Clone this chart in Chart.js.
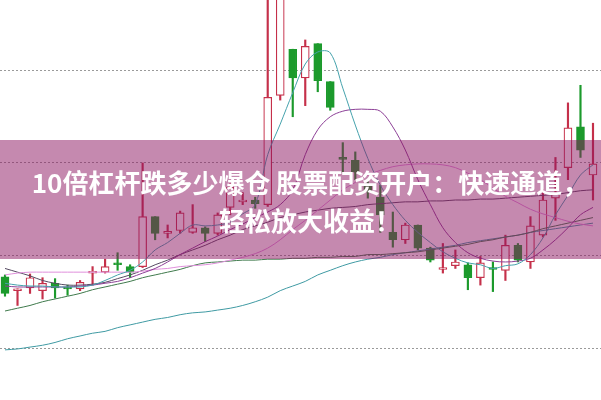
<!DOCTYPE html>
<html>
<head>
<meta charset="utf-8">
<script src="https://cdn.jsdelivr.net/npm/chart.js@4.4.1/dist/chart.umd.min.js"></script>
<style>
  html, body { margin: 0; padding: 0; background: #fff; }
  #wrap { position: relative; width: 601px; height: 400px; overflow: hidden; }
  #banner { position: absolute; left: 0; top: 140px; width: 601px; height: 119px; background: rgba(140, 20, 95, 0.5); }
  #title { position: absolute; left: 19px; width: 582px; top: 163px; text-align: center; color: #fff;
           font: bold 26px/38px "Noto Sans CJK SC", sans-serif; white-space: nowrap; }
</style>
</head>
<body>
<div id="wrap">
  <canvas id="kline"></canvas>
  <div id="banner"></div>
  <div id="title"></div>
</div>
<script>
// ── data (price units, one entry per candle) ──
const titleLines = ['10倍杠杆跌多少爆仓 股票配资开户：快速通道，', '轻松放大收益！'];
const gridTicks = [10, 11, 12, 13];

const opens  = [10.77,10.62,10.65,10.62,10.70,10.66,10.64,10.81,10.82,10.92,10.88,10.88,11.42,11.24,11.27,11.25,
                11.30,11.24,11.52,11.58,11.60,11.55,12.73,13.23,12.92,13.29,12.88,12.06,12.03,11.75,11.63,11.25,
                11.17,11.33,11.08,10.85,10.89,10.90,10.76,10.87,10.84,11.11,10.93,11.22,11.62,11.95,12.39,11.87];
const highs  = [10.79,10.64,10.80,10.76,10.75,10.68,10.73,10.88,10.96,11.03,10.90,12.00,11.42,11.33,11.48,11.55,
                11.31,11.46,11.78,11.68,11.63,13.85,14.20,13.23,13.33,13.29,12.88,12.22,12.12,11.80,11.76,11.47,
                11.35,11.33,11.09,11.13,11.06,10.92,10.99,10.93,11.22,11.13,11.42,11.71,12.06,12.65,12.84,12.43];
const lows   = [10.56,10.46,10.59,10.53,10.54,10.57,10.62,10.68,10.81,10.84,10.76,10.87,11.17,11.19,11.24,11.24,
                11.15,11.22,11.44,11.55,11.51,11.53,12.68,12.50,12.62,12.77,12.57,11.90,11.82,11.62,11.25,11.09,
                11.13,11.06,10.93,10.81,10.86,10.63,10.68,10.61,10.73,10.93,10.86,11.20,11.38,11.82,12.06,11.60];
const closes = [10.59,10.64,10.76,10.70,10.65,10.64,10.71,10.83,10.88,10.90,10.82,11.42,11.24,11.26,11.46,11.30,
                11.24,11.44,11.74,11.60,11.56,12.71,14.05,12.92,13.26,12.89,12.60,12.04,11.90,11.69,11.44,11.17,
                11.33,11.08,10.95,10.87,10.93,10.76,10.92,10.85,11.11,10.95,11.32,11.60,11.67,12.38,12.14,11.99];

const ma5   = [10.70,10.68,10.67,10.67,10.66,10.66,10.66,10.68,10.73,10.79,10.84,10.93,11.06,11.14,11.24,11.33,
               11.32,11.33,11.36,11.45,11.55,12.09,12.42,12.76,13.07,13.20,13.19,12.81,12.41,12.05,11.76,11.55,
               11.38,11.25,11.14,11.04,10.97,10.92,10.90,10.86,10.89,10.91,11.01,11.19,11.44,11.65,11.87,11.98];
const ma10  = [10.67,10.66,10.66,10.66,10.66,10.66,10.67,10.68,10.70,10.72,10.76,10.81,10.86,10.93,11.01,11.08,
               11.15,11.21,11.28,11.34,11.41,11.47,11.55,11.71,12.09,12.36,12.50,12.56,12.58,12.58,12.56,12.39,
               12.14,11.82,11.55,11.30,11.14,11.03,10.97,10.94,10.93,10.94,10.97,11.06,11.17,11.30,11.44,11.52];
const ma20  = [10.79,10.81,10.82,10.82,10.82,10.82,10.82,10.82,10.82,10.82,10.82,10.83,10.85,10.86,10.88,10.89,
               10.90,10.92,10.95,10.98,11.02,11.08,11.17,11.28,11.38,11.49,11.60,11.71,11.79,11.87,11.92,11.96,
               11.98,11.99,11.99,11.98,11.95,11.89,11.82,11.73,11.64,11.57,11.50,11.45,11.41,11.37,11.34,11.32];
const ma30  = [10.86,10.82,10.78,10.73,10.70,10.68,10.68,10.69,10.71,10.75,10.79,10.84,10.90,10.95,11.01,11.06,
               11.11,11.17,11.22,11.28,11.32,11.36,11.41,11.44,11.47,11.49,11.51,11.52,11.53,11.55,11.56,11.57,
               11.58,11.58,11.59,11.59,11.60,11.60,11.61,11.61,11.62,11.63,11.64,11.65,11.66,11.68,11.70,11.71];
const ma60  = [10.40,10.43,10.46,10.50,10.53,10.56,10.59,10.63,10.66,10.69,10.72,10.76,10.79,10.82,10.85,10.89,
               10.92,10.93,10.94,10.95,10.95,10.96,10.96,10.97,10.97,10.98,10.98,10.99,10.99,11.01,11.01,11.02,
               11.03,11.04,11.06,11.08,11.10,11.12,11.15,11.17,11.20,11.22,11.25,11.29,11.32,11.35,11.38,11.41];
const ma120 = [ 9.98, 9.99,10.01,10.03,10.06,10.10,10.13,10.16,10.18,10.22,10.25,10.28,10.31,10.33,10.36,10.38,
               10.39,10.41,10.43,10.46,10.50,10.55,10.62,10.67,10.72,10.79,10.84,10.89,10.93,10.96,10.98,11.01,
               11.03,11.05,11.07,11.09,11.11,11.14,11.16,11.18,11.20,11.22,11.25,11.27,11.29,11.31,11.33,11.35];

const RED = '#c5304a';
const GREEN = '#1c9a2c';

document.getElementById('title').innerHTML = titleLines.map(t => '<div>' + t + '</div>').join('');

const idx = opens.map((_, i) => i);
const up = idx.map(i => closes[i] >= opens[i]);
const candleColor = idx.map(i => up[i] ? RED : GREEN);
const pts = arr => arr.map((v, i) => ({ x: i, y: v }));

const maLine = (label, arr, color) => ({
  type: 'line', label, data: pts(arr), borderColor: color, borderWidth: 1,
  pointRadius: 0, tension: 0.35, fill: false, order: -1
});

new Chart(document.getElementById('kline'), {
  type: 'bar',
  data: {
    datasets: [
      maLine('MA5', ma5, '#45a2ac'),
      maLine('MA10', ma10, '#8c3f96'),
      maLine('MA20', ma20, '#e08fdc'),
      maLine('MA30', ma30, '#564a62'),
      maLine('MA60', ma60, '#3f7a4c'),
      maLine('MA120', ma120, '#3f9aa3'),
      {
        label: 'body', data: idx.map(i => ({ x: i, y: [opens[i], closes[i]] })),
        backgroundColor: idx.map(i => up[i] ? '#ffffff' : GREEN),
        borderColor: candleColor, borderWidth: 1.2, borderSkipped: false,
        barThickness: 8, grouped: false, order: 0
      },
      {
        label: 'wick', data: idx.map(i => ({ x: i, y: [lows[i], highs[i]] })),
        backgroundColor: candleColor, barThickness: 1.5, grouped: false, order: 1
      }
    ]
  },
  options: {
    responsive: true,
    maintainAspectRatio: false,
    animation: false,
    layout: { padding: 0 },
    plugins: { legend: { display: false }, tooltip: { enabled: false } },
    scales: {
      x: { type: 'linear', min: -0.4, max: 47.64, offset: false, display: false },
      y: {
        min: 9.438, max: 13.762,
        ticks: { display: false },
        grid: { color: '#9a9a9a', lineWidth: 1, drawTicks: false },
        border: { display: false, dash: [2, 2] },
        afterBuildTicks: s => { s.ticks = gridTicks.map(v => ({ value: v })); }
      }
    }
  }
});
</script>
</body>
</html>
